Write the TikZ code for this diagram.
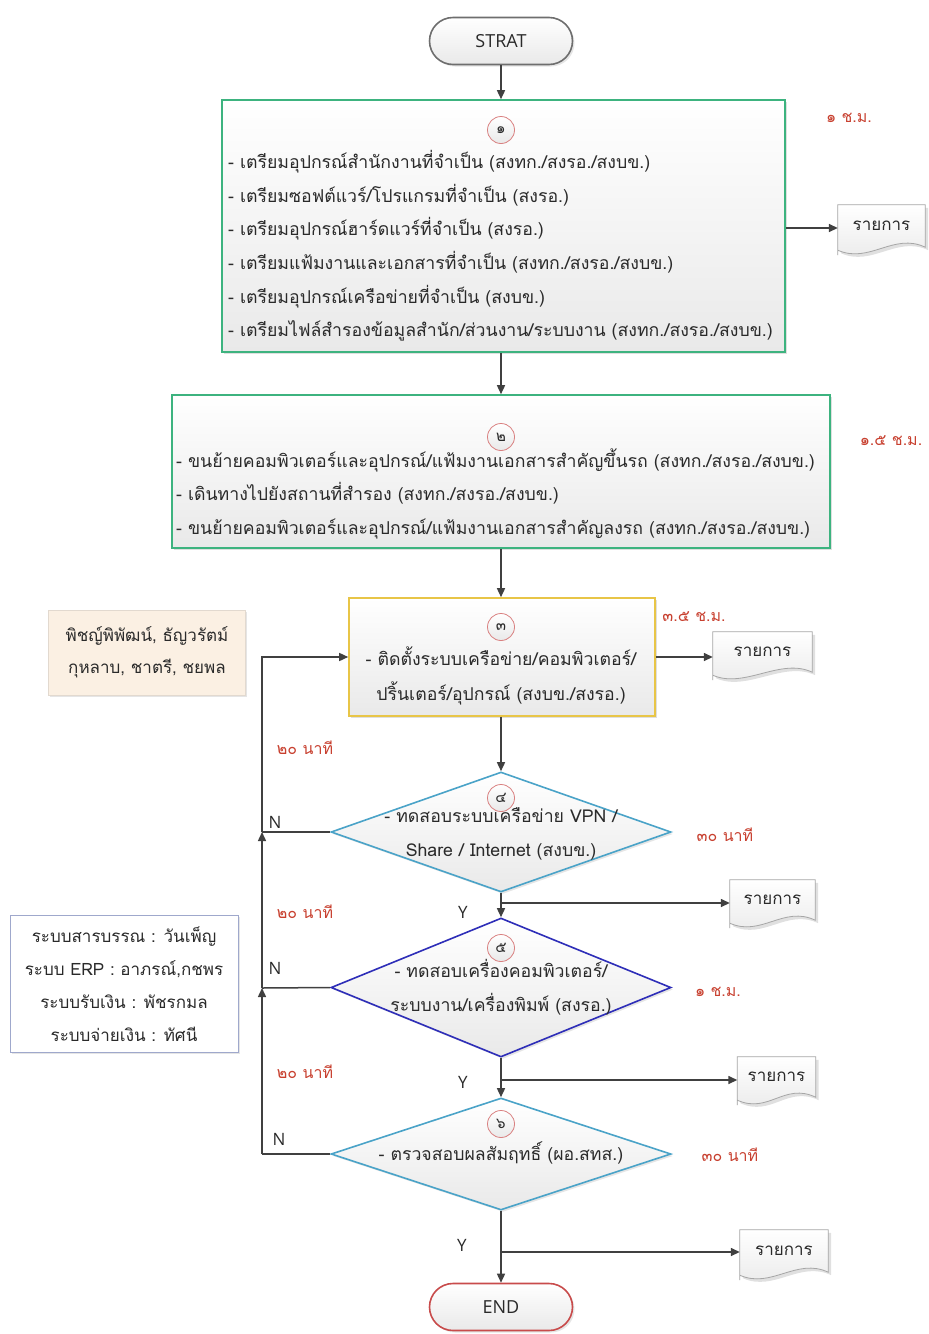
\documentclass[tikz,border=0pt]{standalone}
\usepackage{fontspec}
\setmainfont{Open Sans}
\newfontfamily\thai[Script=Thai]{Loma}
\usetikzlibrary{arrows.meta,shapes.geometric,shapes.misc,shadows,calc}
\definecolor{linegray}{HTML}{404040}
\definecolor{boxgreen}{HTML}{3DB37F}
\definecolor{boxgold}{HTML}{E8C547}
\definecolor{dlblue}{HTML}{4AA3C8}
\definecolor{ddblue}{HTML}{2E2EB8}
\definecolor{termgray}{HTML}{6E6E6E}
\definecolor{termred}{HTML}{C84B4B}
\definecolor{timered}{HTML}{C8402F}
\definecolor{circred}{HTML}{D98080}
\definecolor{fillgray}{HTML}{E9E9E9}
\definecolor{notebeige}{HTML}{FBF0E3}
\definecolor{notebord}{HTML}{9FA8CC}
\definecolor{txtgray}{HTML}{2A2A2A}
\newcommand{\docshape}[1]{%
  \path[fill=black,opacity=0.12] ($(#1.north west)+(3,3)$) -- ($(#1.north east)+(3,3)$) -- ($(#1.south east)+(3,-5)$)
    .. controls ($(#1.south east)+(-0.35*90+3,-20)$) and ($(#1.south west)+(0.35*90+3,12)$) .. ($(#1.south west)+(3,-2)$) -- cycle;
  \draw[draw=gray!70, line width=0.8pt, top color=white, bottom color=fillgray]
    (#1.south west) -- (#1.north west) -- (#1.north east) -- ($(#1.south east)+(0,-8)$)
    .. controls ($(#1.south east)+(-0.35*90,-23)$) and ($(#1.south west)+(0.35*90,9)$) .. ($(#1.south west)+(0,-5)$) -- cycle;
  \node[thaitxt, font=\thai\fontsize{17}{20}\selectfont] at ($(#1.center)+(0,-4)$) {\csname doctext\endcsname};
}
\begin{document}
\begin{tikzpicture}[x=1pt,y=-1pt,
  conn/.style={draw=linegray, line width=1.5pt},
  arr/.style={conn, -{Triangle[length=9pt,width=8pt]}},
  thaitxt/.style={text=txtgray, inner sep=0pt, font=\thai\fontsize{17.7}{20}\selectfont},
  linetxt/.style={thaitxt, anchor=base west},
  ctrtxt/.style={thaitxt, anchor=base},
  notetxt/.style={thaitxt, anchor=base, font=\thai\fontsize{17}{20}\selectfont},
  timetxt/.style={text=timered, inner sep=0pt, font=\thai\fontsize{16}{19}\selectfont},
  latin/.style={text=txtgray, inner sep=0pt, font=\fontsize{17}{20}\selectfont},
  procbox/.style={rectangle, line width=1.6pt, top color=white, bottom color=fillgray,
     drop shadow={opacity=0.25, shadow xshift=2pt, shadow yshift=-2pt}, inner sep=0pt},
  decbox/.style={diamond, line width=1.6pt, top color=white, bottom color=fillgray, inner sep=0pt,
     drop shadow={opacity=0.2, shadow xshift=2pt, shadow yshift=-2pt}},
  termbox/.style={rounded rectangle, line width=1.6pt, top color=white, bottom color=fillgray,
     minimum width=143pt, minimum height=47pt, inner sep=0pt, font=\fontsize{18}{21}\selectfont, text=txtgray,
     drop shadow={opacity=0.2, shadow xshift=2pt, shadow yshift=-2pt}},
  numcirc/.style={circle, draw=circred, line width=0.8pt, top color=white, bottom color=fillgray,
     minimum size=27pt, inner sep=0pt, font=\thai\fontsize{15}{17}\selectfont, text=txtgray},
  docnode/.style={rectangle, inner sep=0pt, draw=none},
  notebox/.style={rectangle, inner sep=0pt, drop shadow={opacity=0.2, shadow xshift=2pt, shadow yshift=-2pt}},
]
\useasboundingbox (0,0) rectangle (929,1334);
\fill[white] (0,0) rectangle (929,1334);

% terminators
\node[termbox, draw=termgray] (start) at (501,41) {STRAT};
\node[termbox, draw=termred] (end) at (501,1307) {END};

% box 1
\node[procbox, draw=boxgreen, minimum width=563pt, minimum height=252pt] (b1) at (503.5,226) {};
\node[numcirc] (c1) at (501,130) {๑};
\node[linetxt] at (228,168) {- เตรียมอุปกรณ์สำนักงานที่จำเป็น (สงทก./สงรอ./สงบข.)};
\node[linetxt] at (228,202) {- เตรียมซอฟต์แวร์/โปรแกรมที่จำเป็น (สงรอ.)};
\node[linetxt] at (228,235) {- เตรียมอุปกรณ์ฮาร์ดแวร์ที่จำเป็น (สงรอ.)};
\node[linetxt] at (228,269) {- เตรียมแฟ้มงานและเอกสารที่จำเป็น (สงทก./สงรอ./สงบข.)};
\node[linetxt] at (228,303) {- เตรียมอุปกรณ์เครือข่ายที่จำเป็น (สงบข.)};
\node[linetxt] at (228,336) {- เตรียมไฟล์สำรองข้อมูลสำนัก/ส่วนงาน/ระบบงาน (สงทก./สงรอ./สงบข.)};
\node[timetxt] at (849,118) {๑ ช.ม.};

% box 2
\node[procbox, draw=boxgreen, minimum width=658pt, minimum height=153pt] (b2) at (501,471.5) {};
\node[numcirc] (c2) at (501,437) {๒};
\node[linetxt] at (176,467) {- ขนย้ายคอมพิวเตอร์และอุปกรณ์/แฟ้มงานเอกสารสำคัญขึ้นรถ (สงทก./สงรอ./สงบข.)};
\node[linetxt] at (176,500) {- เดินทางไปยังสถานที่สำรอง (สงทก./สงรอ./สงบข.)};
\node[linetxt] at (176,534) {- ขนย้ายคอมพิวเตอร์และอุปกรณ์/แฟ้มงานเอกสารสำคัญลงรถ (สงทก./สงรอ./สงบข.)};
\node[timetxt] at (891,441) {๑.๕ ช.ม.};

% box 3
\node[procbox, draw=boxgold, minimum width=306pt, minimum height=118pt] (b3) at (502,657) {};
\node[numcirc] (c3) at (501,627) {๓};
\node[ctrtxt] at (501,665) {- ติดตั้งระบบเครือข่าย/คอมพิวเตอร์/};
\node[ctrtxt] at (501,700) {ปริ้นเตอร์/อุปกรณ์ (สงบข./สงรอ.)};
\node[timetxt] at (694,617) {๓.๕ ช.ม.};

% note 1
\node[notebox, fill=notebeige, draw=notebeige!80!gray, line width=0.6pt, minimum width=197pt, minimum height=85pt] (n1) at (146.5,652.5) {};
\node[notetxt] at (147,641) {พิชญ์พิพัฒน์, ธัญวรัตม์};
\node[notetxt] at (147,673) {กุหลาบ, ชาตรี, ชยพล};

% diamonds
\node[decbox, draw=dlblue, minimum width=340pt, minimum height=120pt] (d4) at (501,832) {};
\node[numcirc] (c4) at (501,798) {๔};
\node[ctrtxt] at (501,822) {- ทดสอบระบบเครือข่าย VPN /};
\node[ctrtxt] at (501,856) {Share / Internet (สงบข.)};
\node[timetxt] at (725,835) {๓๐ นาที};

\node[decbox, draw=ddblue, minimum width=340pt, minimum height=139pt] (d5) at (501,987.5) {};
\node[numcirc] (c5) at (501,948) {๕};
\node[ctrtxt] at (501,977) {- ทดสอบเครื่องคอมพิวเตอร์/};
\node[ctrtxt] at (501,1011) {ระบบงาน/เครื่องพิมพ์ (สงรอ.)};
\node[timetxt] at (718,992) {๑ ช.ม.};

\node[decbox, draw=dlblue, minimum width=340pt, minimum height=112pt] (d6) at (501,1154) {};
\node[numcirc] (c6) at (501,1124) {๖};
\node[ctrtxt] at (501,1160) {- ตรวจสอบผลสัมฤทธิ์ (ผอ.สทส.)};
\node[timetxt] at (730,1155) {๓๐ นาที};

% note 2
\node[notebox, fill=white, draw=notebord, line width=0.8pt, minimum width=228pt, minimum height=137pt] (n2) at (124,983.5) {};
\node[notetxt] at (124,942) {ระบบสารบรรณ : วันเพ็ญ};
\node[notetxt] at (124,975) {ระบบ ERP : อาภรณ์,กชพร};
\node[notetxt] at (124,1008) {ระบบรับเงิน : พัชรกมล};
\node[notetxt] at (124,1041) {ระบบจ่ายเงิน : ทัศนี};

% time labels on loop
\node[timetxt] at (305,748) {๒๐ นาที};
\node[timetxt] at (305,912) {๒๐ นาที};
\node[timetxt] at (305,1072) {๒๐ นาที};

% documents
\node[docnode, minimum width=87pt, minimum height=50pt] (r1) at (881.5,230) {};
\node[docnode, minimum width=99pt, minimum height=48pt] (r2) at (762.5,656) {};
\node[docnode, minimum width=85pt, minimum height=48pt] (r3) at (772.5,904) {};
\node[docnode, minimum width=78pt, minimum height=48pt] (r4) at (776.5,1081) {};
\node[docnode, minimum width=88pt, minimum height=50pt] (r5) at (784,1255) {};
\def\doctext{รายการ}
\docshape{r1}\docshape{r2}\docshape{r3}\docshape{r4}\docshape{r5}

% coordinates
\coordinate (L3) at (262,657);
\coordinate (L4) at (262,832);
\coordinate (L5) at (262,988);
\coordinate (L6) at (262,1154);
\coordinate (Y4) at (501,903);
\coordinate (Y5) at (501,1080);
\coordinate (Y6) at (501,1252);

% connectors
\draw[arr] (start.south) -- (start.south |- b1.north);
\draw[arr] (b1.east |- 0,228) -- (r1.west |- 0,228);
\draw[arr] (start.south |- b1.south) -- (start.south |- b2.north);
\draw[arr] (b2.south) -- (b2.south |- b3.north);
\draw[arr] (b3.east) -- (b3.east -| r2.west);
\draw[arr] (d4.north |- b3.south) -- (d4.north);
\draw[arr] (d4.south) -- (d5.north);
\draw[arr] (Y4) -- (Y4 -| r3.west);
\draw[arr] (d5.south) -- (d6.north);
\draw[arr] (Y5) -- (Y5 -| r4.west);
\draw[arr] (d6.south) -- (end.north);
\draw[arr] (Y6) -- (Y6 -| r5.west);
\draw[conn] (d6.west) -- (L6);
\draw[arr] (L6) -- (L5);
\draw[conn] (d5.west) -- (L5);
\draw[arr] (L5) -- (L4);
\draw[conn] (d4.west) -- (L4);
\draw[arr] (L4) -- (L3) -- (b3.west);

% Y / N labels
\node[latin] at (275,822) {N};
\node[latin] at (275,968) {N};
\node[latin] at (279,1139) {N};
\node[latin] at (463,912) {Y};
\node[latin] at (463,1082) {Y};
\node[latin] at (462,1245) {Y};
\end{tikzpicture}
\end{document}
